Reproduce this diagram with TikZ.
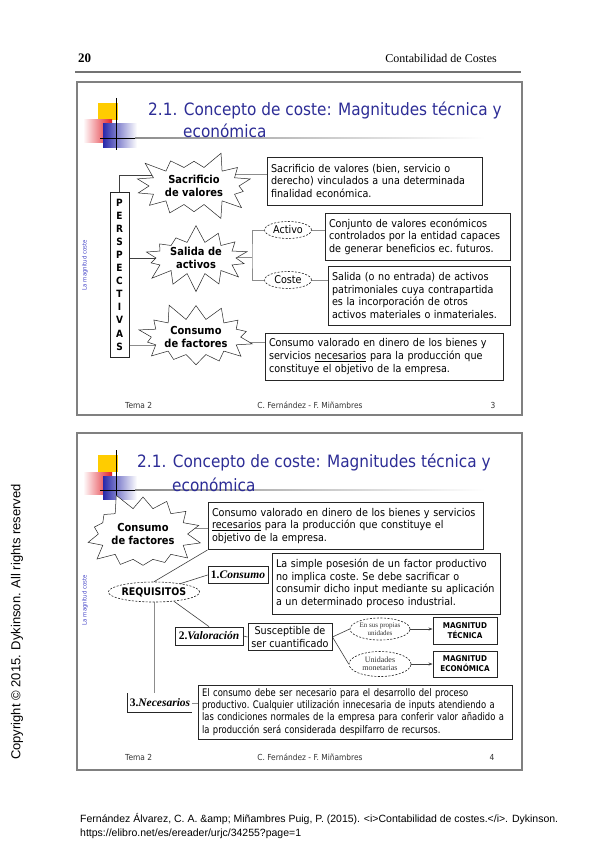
\documentclass[tikz,border=0pt]{standalone}
\usepackage{fontspec}
\setmainfont{Liberation Serif}
\newfontfamily\tah[FakeStretch=0.9]{DejaVu Sans}
\newfontfamily\tahn[FakeStretch=0.81]{DejaVu Sans}
\newfontfamily\arialf{Liberation Sans}
\usetikzlibrary{shapes.symbols,shapes.geometric,arrows.meta,calc,backgrounds,shadows}
\definecolor{titleblue}{RGB}{45,45,150}
\definecolor{sideblue}{RGB}{70,70,200}
\definecolor{decoyellow}{RGB}{255,204,0}
\definecolor{decored}{RGB}{225,30,40}
\definecolor{decoblue}{RGB}{40,40,170}
\newcommand\bodyf{\tah\fontsize{10.7}{12.6}\selectfont\frenchspacing}
\newcommand\bodyn{\tahn\fontsize{10.4}{12.2}\selectfont\frenchspacing}
\newcommand\burstf{\tah\bfseries\fontsize{11}{12.5}\selectfont}
\newcommand\labf{\fontsize{11.5}{13}\selectfont\bfseries}
\newcommand\lnbox[1]{\mbox{#1}}
\begin{document}
\begin{tikzpicture}[x=1pt,y=-1pt,
 frame/.style={draw=black!50, line width=1.6pt},
 tbox/.style={draw=black!85, line width=0.9pt, fill=white, inner xsep=4pt, inner ysep=2pt, align=left, font=\bodyf, drop shadow={shadow xshift=0.9pt, shadow yshift=-0.9pt, opacity=1, fill=black!80}},
 burst/.style={starburst, draw=black!85, line width=0.5pt, fill=white, starburst points=14, starburst point height=18pt, inner sep=0pt, align=center, font=\burstf},
 dell/.style={ellipse, draw=black!85, dash pattern=on 2pt off 1.5pt, line width=0.6pt, fill=white, inner sep=0pt, align=center},
 conn/.style={draw=black!75, line width=0.6pt},
 gconn/.style={draw=black!45, line width=0.8pt},
 lbl/.style={draw=black!85, line width=0.8pt, fill=white, inner sep=1pt, font=\labf},
 magbox/.style={draw=black!85, line width=0.9pt, fill=white, inner sep=0pt, align=center, font=\tah\bfseries\fontsize{8}{10}\selectfont, minimum width=64pt},
 titlef/.style={font=\tah\fontsize{17}{20}\selectfont, text=titleblue, inner sep=0pt},
 foot/.style={font=\tah\fontsize{8.3}{10}\selectfont, text=black!80, inner sep=0pt},
 side/.style={font=\tah\fontsize{6}{7}\selectfont, text=sideblue, rotate=90, inner sep=0pt},
 deco/.pic={
  \fill[decoyellow] (0,0) rectangle (20,17);
  \shade[left color=white, right color=decored] (-15,17) rectangle (14,39);
  \shade[left color=decoblue, right color=white] (5,21) rectangle (39,44);
  \draw[line width=0.8pt] (18,-5) -- (18,47);
  \draw[line width=0.8pt] (2,35) -- (37,35);
  \shade[left color=black!45, right color=white] (37,34.6) rectangle (387,35.4);
 }]
\useasboundingbox (0,0) rectangle (599,848);
\begin{scope}[on background layer]
\fill[white] (0,0) rectangle (599,848);
\end{scope}
% page header
\node[anchor=base west, inner sep=0pt, font=\fontsize{13}{15}\selectfont\bfseries] (pnum) at (78,63) {20};
\node[anchor=base east, inner sep=0pt, font=\fontsize{12}{14}\selectfont] (ptitle) at (497,63) {Contabilidad de Costes};
\draw[black!55, line width=1.5pt] (75,72) -- (521,72);
% frames
\draw[frame] (77,82) rectangle (522,415);
\draw[frame] (77,433) rectangle (522,770);
% decorations
\pic at (98,103) {deco};
\pic at (98,455) {deco};
% titles
\node[titlef, anchor=base west] (t1a) at (148,116) {2.1. Concepto de coste: Magnitudes técnica y};
\node[titlef, anchor=base west] (t1b) at (183,137) {económica};
\node[titlef, anchor=base west] (t2a) at (137,467) {2.1. Concepto de coste: Magnitudes técnica y};
\node[titlef, anchor=base west] (t2b) at (172,491) {económica};
\node[side] (s1) at (85,265) {La magnitud coste};
\node[side] (s2) at (85,600) {La magnitud coste};
% ===== slide 1 =====
\node[draw=black!85, line width=1pt, fill=white, minimum width=19pt, minimum height=165pt, inner sep=0pt, align=center, font=\tah\bfseries\fontsize{10}{13.1}\selectfont] (persp) at (119.5,274.5) {P\\E\\R\\S\\P\\E\\C\\T\\I\\V\\A\\S};
\node[burst, random starburst=3, minimum width=126pt, minimum height=74pt] (sac) at (194,186) {Sacrificio\\de valores};
\node[burst, random starburst=7, minimum width=116pt, minimum height=68pt] (sal) at (196,258) {Salida de\\activos};
\node[burst, random starburst=11, minimum width=116pt, minimum height=72pt] (con) at (196,337) {Consumo\\de factores};
\node[tbox, text width=207pt, minimum height=48pt] (tb1) at (374.5,181) {\lnbox{Sacrificio de valores (bien, servicio o}\\\lnbox{derecho) vinculados a una determinada}\\\lnbox{finalidad económica.}};
\node[dell, font=\bodyf, minimum width=47pt, minimum height=17pt] (act) at (288,230) {Activo};
\node[dell, font=\bodyf, minimum width=47pt, minimum height=17pt] (cos) at (288,280) {Coste};
\node[tbox, text width=177pt, minimum height=47pt] (conj) at (417.5,236.5) {\lnbox{Conjunto de valores económicos}\\\lnbox{controlados por la entidad capaces}\\\lnbox{de generar beneficios ec. futuros.}};
\node[tbox, text width=174pt, minimum height=59pt] (salbox) at (419,295.5) {\lnbox{Salida (o no entrada) de activos}\\\lnbox{patrimoniales cuya contrapartida}\\\lnbox{es la incorporación de otros}\\\lnbox{activos materiales o inmateriales.}};
\node[tbox, text width=230pt, minimum height=47pt] (consbox) at (384,356.5) {\lnbox{Consumo valorado en dinero de los bienes y}\\\lnbox{servicios \underline{necesarios} para la producción que}\\\lnbox{constituye el objetivo de la empresa.}};
\node[foot, anchor=west] (tema1) at (125,405) {Tema 2};
\node[foot] (aut1) at (310,405) {C. Fernández - F. Miñambres};
\node[foot] (pg1) at (493,405) {3};
% ===== slide 2 =====
\node[burst, random starburst=5, minimum width=118pt, minimum height=88pt] (bcon) at (143,534) {Consumo\\de factores};
\node[tbox, text width=267pt, minimum height=47pt] (cvbox) at (345.5,526) {\lnbox{Consumo valorado en dinero de los bienes y servicios}\\\lnbox{\underline{recesarios} para la producción que constituye el}\\\lnbox{objetivo de la empresa.}};
\node[dell, font=\tah\bfseries\fontsize{10.5}{12}\selectfont, minimum width=80pt, minimum height=20pt] (req) at (154,592) {REQUISITOS};
\node[lbl, minimum width=60pt, minimum height=17pt] (c1) at (238,575) {1.\textit{Consumo}};
\node[tbox, text width=220pt, minimum height=61pt] (posbox) at (386,583.5) {\lnbox{La simple posesión de un factor productivo}\\\lnbox{no implica coste. Se debe sacrificar o}\\\lnbox{consumir dicho input mediante su aplicación}\\\lnbox{a un determinado proceso industrial.}};
\node[lbl, minimum width=68pt, minimum height=18pt] (c2) at (209,636) {2.\textit{Valoración}};
\node[tbox, inner xsep=2pt, align=center, minimum width=84pt, minimum height=27pt] (susbox) at (290,637) {Susceptible de\\ser cuantificado};
\node[dell, font=\fontsize{7}{7.5}\selectfont, text=black!80, minimum width=60pt, minimum height=22pt] (ep) at (380,629) {En sus propias\\unidades};
\node[dell, font=\fontsize{8}{8.5}\selectfont, text=black!80, minimum width=62pt, minimum height=25pt] (em) at (380,664) {Unidades\\monetarias};
\node[magbox, minimum height=27pt] (mt) at (465,631) {MAGNITUD\\TÉCNICA};
\node[magbox, minimum height=26pt] (me) at (465,664) {MAGNITUD\\ECONÓMICA};
\node[inner sep=1pt, font=\labf, minimum width=64pt, minimum height=19pt] (c3) at (160,703) {3.\textit{Necesarios}};
\draw[black!85, line width=0.8pt] (c3.north west) |- (c3.south east);
\node[tbox, font=\bodyn, text width=306pt, minimum height=54pt] (bigbox) at (355,712) {\lnbox{El consumo debe ser necesario para el desarrollo del proceso}\\\lnbox{productivo. Cualquier utilización innecesaria de inputs atendiendo a}\\\lnbox{las condiciones normales de la empresa para conferir valor añadido a}\\\lnbox{la producción será considerada despilfarro de recursos.}};
\node[foot, anchor=west] (tema2) at (125,757) {Tema 2};
\node[foot] (aut2) at (310,757) {C. Fernández - F. Miñambres};
\node[foot] (pg2) at (492,757) {4};
% ===== outside =====
\node[font=\arialf\fontsize{13}{15}\selectfont, rotate=90, inner sep=0pt] (copy) at (17,622) {Copyright © 2015. Dykinson. All rights reserved};
\node[anchor=base west, inner sep=0pt, font=\arialf\fontsize{10.5}{12}\selectfont] (cit1) at (80,822) {Fernández Álvarez, C. A. \&amp; Miñambres Puig, P. (2015). <i>Contabilidad de costes.</i>. Dykinson.};
\node[anchor=base west, inner sep=0pt, font=\arialf\fontsize{10.5}{12}\selectfont] (cit2) at (80,836) {https://elibro.net/es/ereader/urjc/34255?page=1};
% ===== connectors =====
\coordinate (jn) at (252,257);
\begin{scope}[on background layer]
\draw[conn] (persp.north) |- ($(sac.center)+(0,-11)$);
\draw[conn] (persp.east |- sal.center) -- (sal.center);
\draw[gconn] ($(persp.east |- con.center)+(0,8)$) -- ($(con.center)+(0,8)$);
\draw[gconn] ($(sac.center)+(0,-12)$) -- ($(sac.center -| tb1.west)+(0,-12)$);
\draw[gconn] (sal.center |- jn) -- (jn);
\draw[gconn] (act.west) -| (jn) |- (cos.west);
\draw[gconn] (act.east) -- (act.east -| conj.west);
\draw[gconn] (cos.east) -- (cos.east -| salbox.west);
\draw[gconn] ($(con.center)+(0,5)$) -- ($(con.center -| consbox.west)+(0,5)$);
\draw[gconn] ($(bcon.center)+(0,-6)$) -- ($(bcon.center -| cvbox.west)+(0,-6)$);
\draw[conn] (cvbox.south west) -- (req.north);
\draw[conn] (req.center) -- (c1.west);
\draw[conn] (req.-25) -- (c2.north);
\draw[gconn] (req.south) -- (req.south |- c3.north);
\draw[conn] (c2.east) -- (susbox.west);
\draw[conn] (susbox.east) -- (ep.west);
\draw[conn] (susbox.east) -- (em.west);
\draw[conn, -{Stealth[length=4pt,width=3pt]}] (ep.east) -- (ep.east -| mt.west);
\draw[conn, -{Stealth[length=4pt,width=3pt]}] (em.east) -- (em.east -| me.west);
\draw[gconn] (c3.east) -- (c3.east -| bigbox.west);
\end{scope}
\end{tikzpicture}
\end{document}
